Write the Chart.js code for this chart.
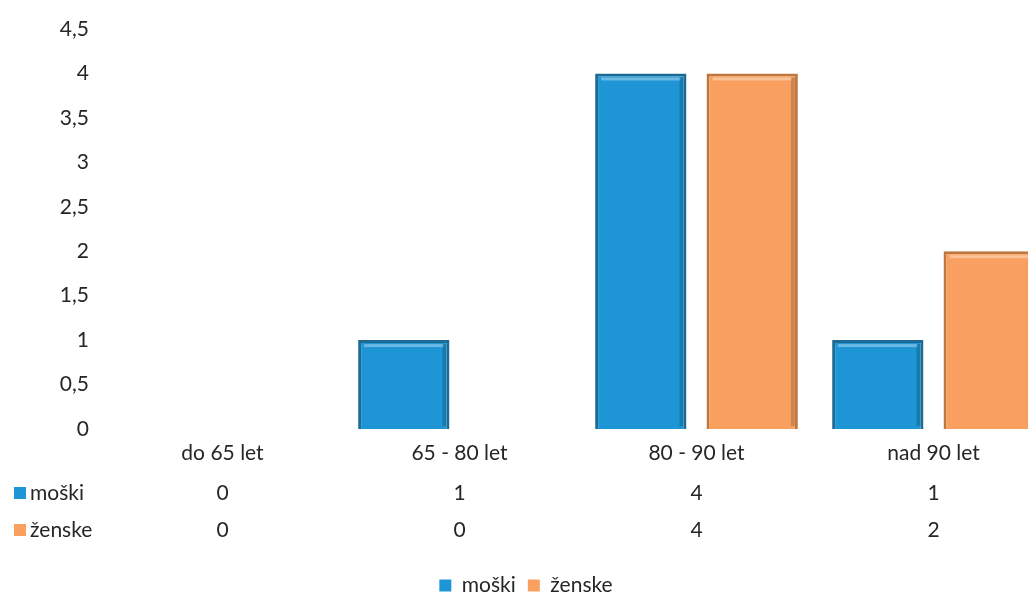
<!DOCTYPE html>
<html>
<head>
<meta charset="utf-8">
<script src="https://cdn.jsdelivr.net/npm/chart.js@4"></script>
<style>
  html, body { margin: 0; padding: 0; background: #fff; overflow: hidden; }
  #wrap { width: 1060px; height: 600px; position: relative; }
</style>
</head>
<body>
<div id="wrap"><canvas id="chart"></canvas></div>
<script>
const categories = ['do 65 let', '65 - 80 let', '80 - 90 let', 'nad 90 let'];
const seriesNames = ['moški', 'ženske'];
const moski = [0, 1, 4, 1];
const zenske = [0, 0, 4, 2];
const yTicks = [0, 0.5, 1, 1.5, 2, 2.5, 3, 3.5, 4, 4.5];

const FONT = 'Lato, "Open Sans", sans-serif';
const TEXT = '#262626';
const blue = '#1e96d6';
const blueEdge = '#1d6a93';
const orange = '#f9a060';
const orangeEdge = '#c0773d';

// data table drawn under the category labels, from the same arrays
const dataTable = {
  id: 'dataTable',
  afterDraw(chart) {
    const ctx = chart.ctx;
    const x = chart.scales.x;
    const rows = [
      { name: seriesNames[0], vals: moski, color: blue, y: 493 },
      { name: seriesNames[1], vals: zenske, color: orange, y: 530 }
    ];
    ctx.save();
    ctx.font = '21px ' + FONT;
    ctx.textBaseline = 'middle';
    rows.forEach(r => {
      ctx.fillStyle = r.color;
      ctx.fillRect(14, r.y - 6, 12, 12);
      ctx.fillStyle = TEXT;
      ctx.textAlign = 'left';
      ctx.fillText(r.name, 30, r.y);
      ctx.textAlign = 'center';
      r.vals.forEach((v, i) => {
        ctx.fillText(String(v), x.getPixelForValue(i), r.y);
      });
    });
    ctx.restore();
  }
};

// light top edge and darker right side, like the bevelled bars
const bevel = {
  id: 'bevel',
  afterDatasetsDraw(chart) {
    const ctx = chart.ctx;
    ctx.save();
    chart.data.datasets.forEach((ds, di) => {
      chart.getDatasetMeta(di).data.forEach(bar => {
        const { x, y, base, width } = bar.getProps(['x', 'y', 'base', 'width'], true);
        if (base - y < 2) return;
        const l = x - width / 2, r = x + width / 2;
        ctx.fillStyle = 'rgba(255,255,255,0.35)';
        ctx.fillRect(l + 6, y + 4, width - 12, 3);
        ctx.fillStyle = 'rgba(0,0,0,0.18)';
        ctx.fillRect(r - 7, y + 4, 4, base - y - 7);
      });
    });
    ctx.restore();
  }
};

new Chart(document.getElementById('chart'), {
  type: 'bar',
  data: {
    labels: categories,
    datasets: [
      {
        label: seriesNames[0],
        data: moski,
        backgroundColor: blue,
        borderColor: blueEdge,
        borderWidth: 3,
        categoryPercentage: 0.94,
        barPercentage: 0.82
      },
      {
        label: seriesNames[1],
        data: zenske,
        backgroundColor: orange,
        borderColor: orangeEdge,
        borderWidth: 3,
        categoryPercentage: 0.94,
        barPercentage: 0.82
      }
    ]
  },
  options: {
    responsive: true,
    maintainAspectRatio: false,
    animation: false,
    layout: { padding: { top: 29, right: 8, left: 0, bottom: -6 } },
    plugins: {
      tooltip: { enabled: false },
      legend: {
        position: 'bottom',
        labels: {
          color: TEXT,
          font: { family: FONT, size: 21 },
          boxWidth: 12,
          boxHeight: 12,
          padding: 12,
          generateLabels(chart) {
            return chart.data.datasets.map((ds, i) => ({
              text: ds.label,
              fillStyle: ds.backgroundColor,
              strokeStyle: ds.backgroundColor,
              lineWidth: 0,
              fontColor: TEXT,
              datasetIndex: i
            }));
          }
        }
      }
    },
    scales: {
      x: {
        grid: { display: false, drawTicks: false },
        border: { display: false },
        ticks: { color: TEXT, font: { family: FONT, size: 21 }, padding: 12, maxRotation: 0 },
        afterFit(s) { s.height = 134; }
      },
      y: {
        min: 0,
        max: 4.5,
        grid: { display: false, drawTicks: false },
        border: { display: false },
        afterFit(s) { s.width = 104; },
        afterBuildTicks(s) { s.ticks = yTicks.map(v => ({ value: v })); },
        ticks: {
          color: TEXT,
          font: { family: FONT, size: 21 },
          padding: 15,
          callback: v => String(v).replace('.', ',')
        }
      }
    }
  },
  plugins: [dataTable, bevel]
});
</script>
</body>
</html>
